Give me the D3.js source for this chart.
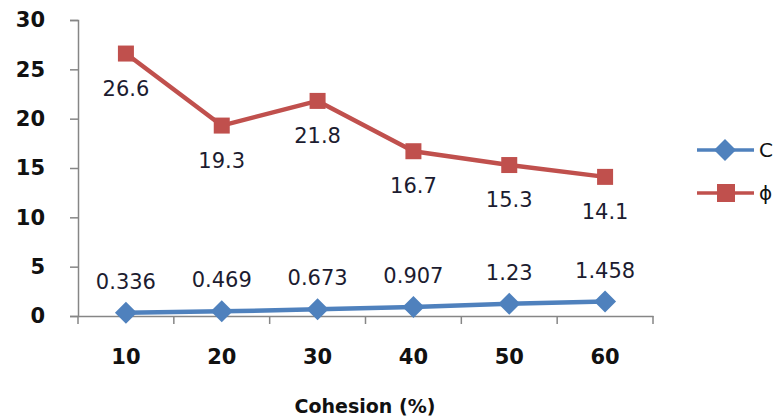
<!DOCTYPE html>
<html><head><meta charset="utf-8">
<script src="https://cdn.jsdelivr.net/npm/d3@7/dist/d3.min.js"></script>
<style>body{margin:0;background:#fff;} svg{display:block;}</style>
</head><body>
<svg id="c" width="777" height="420"></svg>
<script>
const categories = ["10","20","30","40","50","60"];
const cValues = [0.336,0.469,0.673,0.907,1.23,1.458];
const phiValues = [26.6,19.3,21.8,16.7,15.3,14.1];
const yTicks = [0,5,10,15,20,25,30];
const seriesNames = ["C","ϕ"];
const xTitle = "Cohesion (%)";

(function(){
const svg = d3.select("#c");
const mLeft = 78, mRight = 653, mTop = 20, mBottom = 316;
const x = d3.scaleBand().domain(categories).range([mLeft,mRight]);
const y = d3.scaleLinear().domain([0,30]).range([mBottom,mTop]);
const blue = "#4F81BD", red = "#C0504D", axisCol = "#868686", txt = "#111";
const font = "'DejaVu Sans', Verdana, sans-serif";

// y axis
const ya = svg.append("g").attr("transform",`translate(${mLeft},0)`)
  .call(d3.axisLeft(y).tickValues(yTicks).tickSize(8).tickPadding(14));
ya.select(".domain").attr("stroke",axisCol).attr("stroke-width",1.5);
ya.selectAll(".tick line").attr("stroke",axisCol).attr("stroke-width",1.5);
ya.selectAll(".tick text").attr("font-family",font).attr("font-weight","bold")
  .attr("font-size",21).attr("fill",txt).attr("x",-33);

// x axis
const xa = svg.append("g").attr("transform",`translate(0,${mBottom})`)
  .call(d3.axisBottom(x).tickSize(0).tickPadding(33));
xa.select(".domain").attr("stroke",axisCol).attr("stroke-width",1.5);
xa.selectAll(".tick text").attr("font-family",font).attr("font-weight","bold")
  .attr("font-size",21).attr("fill",txt);
const bounds = categories.map(c=>x(c)).concat([x(categories[categories.length-1])+x.bandwidth()]);
svg.append("g").selectAll("line").data(bounds).join("line")
  .attr("x1",d=>d).attr("x2",d=>d).attr("y1",mBottom).attr("y2",mBottom+8)
  .attr("stroke",axisCol).attr("stroke-width",1.5);

svg.append("text").attr("x",365).attr("y",413).attr("text-anchor","middle")
  .attr("font-family",font).attr("font-weight","bold").attr("font-size",19)
  .attr("fill",txt).text(xTitle);

const cx = c => x(c) + x.bandwidth()/2;
const line = d3.line().x(d=>cx(d.c)).y(d=>y(d.v));
const cData = categories.map((c,i)=>({c,v:cValues[i]}));
const pData = categories.map((c,i)=>({c,v:phiValues[i]}));

svg.append("path").datum(pData).attr("d",line).attr("fill","none")
  .attr("stroke",red).attr("stroke-width",4.5).attr("stroke-linejoin","round");
svg.append("path").datum(cData).attr("d",line).attr("fill","none")
  .attr("stroke",blue).attr("stroke-width",4.5).attr("stroke-linejoin","round");

const sq = 16, dm = 11;
svg.append("g").selectAll("rect").data(pData).join("rect")
  .attr("x",d=>cx(d.c)-sq/2).attr("y",d=>y(d.v)-sq/2).attr("width",sq).attr("height",sq)
  .attr("fill",red);
const diamond = (px,py,r)=>`M${px},${py-r}L${px+r},${py}L${px},${py+r}L${px-r},${py}Z`;
svg.append("g").selectAll("path").data(cData).join("path")
  .attr("d",d=>diamond(cx(d.c),y(d.v),dm)).attr("fill",blue);

svg.append("g").selectAll("text").data(pData).join("text")
  .attr("x",d=>cx(d.c)).attr("y",d=>y(d.v)+42).attr("text-anchor","middle")
  .attr("font-family",font).attr("font-size",21).attr("fill","#1c1c30")
  .text(d=>d.v);
svg.append("g").selectAll("text").data(cData).join("text")
  .attr("x",d=>cx(d.c)).attr("y",d=>y(d.v)-24).attr("text-anchor","middle")
  .attr("font-family",font).attr("font-size",21).attr("fill","#1c1c30")
  .text(d=>d.v);

const lg = svg.append("g");
const legendItems = [{n:seriesNames[0],col:blue,shape:"d",yy:150},{n:seriesNames[1],col:red,shape:"s",yy:193}];
legendItems.forEach(it=>{
  lg.append("line").attr("x1",697).attr("x2",754).attr("y1",it.yy).attr("y2",it.yy)
    .attr("stroke",it.col).attr("stroke-width",3.5);
  if(it.shape==="d") lg.append("path").attr("d",diamond(725,it.yy,11)).attr("fill",it.col);
  else lg.append("rect").attr("x",717).attr("y",it.yy-9).attr("width",18).attr("height",18).attr("fill",it.col);
  lg.append("text").attr("x",759).attr("y",it.yy+7).attr("font-family",font)
    .attr("font-size",20).attr("fill",txt).text(it.n);
});
})();
</script>
</body></html>
